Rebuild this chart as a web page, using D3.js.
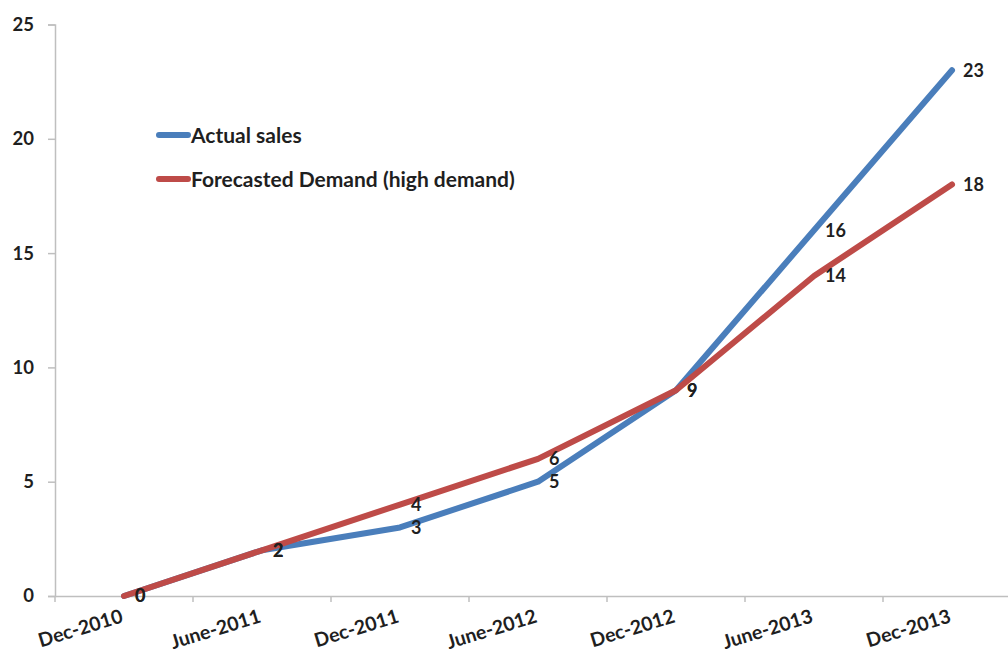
<!DOCTYPE html>
<html>
<head>
<meta charset="utf-8">
<script src="https://cdn.jsdelivr.net/npm/d3@7/dist/d3.min.js"></script>
<style>
  html, body { margin: 0; padding: 0; background: #ffffff; }
  svg { display: block; }
  text { font-family: Lato, "Open Sans", sans-serif; font-weight: bold; fill: #1f1f1f; }
</style>
</head>
<body>
<svg id="chart" width="1008" height="654"></svg>
<script>
// Periods along the horizontal axis
const periods = ["Dec-2010", "June-2011", "Dec-2011", "June-2012", "Dec-2012", "June-2013", "Dec-2013"];
// Series values
const actualSales = [0, 2, 3, 5, 9, 16, 23];
const forecastDemand = [0, 2, 4, 6, 9, 14, 18];
// Value axis ticks
const yTicks = [0, 5, 10, 15, 20, 25];

const seriesNames = ["Actual sales", "Forecasted Demand (high demand)"];
const seriesColors = ["#4a7ebb", "#be4b48"];

const svg = d3.select("#chart");

const x = d3.scaleBand().domain(periods).range([55, 1021]).paddingInner(0).paddingOuter(0);
const y = d3.scaleLinear().domain([0, 25]).range([596, 24.5]);
const cx = p => x(p) + x.bandwidth() / 2;

// Value axis
const yAxis = svg.append("g").attr("transform", "translate(55,0)")
  .call(d3.axisLeft(y).tickValues(yTicks).tickSize(7).tickPadding(14));
yAxis.select(".domain").attr("stroke", "#bfbfbf").attr("stroke-width", 1.5);
yAxis.selectAll(".tick line").attr("stroke", "#bfbfbf").attr("stroke-width", 1.5);
yAxis.selectAll(".tick text").style("font-size", "18.5px").attr("fill", "#1f1f1f");

// Category axis
const xAxis = svg.append("g").attr("transform", "translate(0,596)")
  .call(d3.axisBottom(x).tickValues([]).tickSizeOuter(0));
xAxis.select(".domain").attr("stroke", "#bfbfbf").attr("stroke-width", 1.5);

// Tick marks at band boundaries
svg.append("g").selectAll("line")
  .data(periods)
  .join("line")
  .attr("x1", d => x(d)).attr("x2", d => x(d))
  .attr("y1", 596).attr("y2", 602)
  .attr("stroke", "#bfbfbf").attr("stroke-width", 1.5);

// Rotated period labels
svg.append("g").selectAll("text")
  .data(periods)
  .join("text")
  .attr("transform", d => `translate(${cx(d)},${622}) rotate(-17)`)
  .attr("text-anchor", "end")
  .style("font-size", "19.5px")
  .text(d => d);

const line = d3.line()
  .x((d, i) => cx(periods[i]))
  .y(d => y(d));

const series = [actualSales, forecastDemand];

// Lines (forecast drawn over actual)
series.forEach((vals, k) => {
  svg.append("path")
    .datum(vals)
    .attr("d", line)
    .attr("fill", "none")
    .attr("stroke", seriesColors[k])
    .attr("stroke-width", 6)
    .attr("stroke-linejoin", "round")
    .attr("stroke-linecap", "round");
});

// Data labels to the right of each point
series.forEach((vals, k) => {
  svg.append("g").selectAll("text")
    .data(vals)
    .join("text")
    .attr("x", (d, i) => cx(periods[i]) + 11)
    .attr("y", d => y(d))
    .attr("dy", "0.36em")
    .style("font-size", "18px")
    .text(d => d);
});

// Legend
const legend = svg.append("g");
seriesNames.forEach((name, k) => {
  const ly = 135 + k * 44;
  legend.append("line")
    .attr("x1", 159).attr("x2", 188)
    .attr("y1", ly).attr("y2", ly)
    .attr("stroke", seriesColors[k])
    .attr("stroke-width", 6)
    .attr("stroke-linecap", "round");
  legend.append("text")
    .attr("x", 191).attr("y", ly)
    .attr("dy", "0.36em")
    .style("font-size", "21px")
    .text(name);
});
</script>
</body>
</html>
